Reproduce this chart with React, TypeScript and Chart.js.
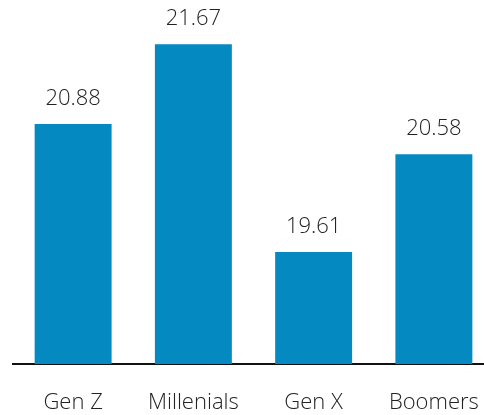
import React, { useEffect, useRef } from "react";
import { Chart, registerables } from "chart.js";

Chart.register(...registerables);

const categories = ["Gen Z", "Millenials", "Gen X", "Boomers"];
const values = [20.88, 21.67, 19.61, 20.58];
const valueLabels = ["20.88", "21.67", "19.61", "20.58"];

const FONT = "'Open Sans', 'Noto Sans', sans-serif";

const labelPlugin = {
  id: "valueLabels",
  afterDatasetsDraw(chart: any) {
    const ctx = chart.ctx;
    const meta = chart.getDatasetMeta(0);
    ctx.save();
    ctx.font = `300 22px ${FONT}`;
    ctx.fillStyle = "#222222";
    ctx.textAlign = "center";
    ctx.textBaseline = "alphabetic";
    meta.data.forEach((bar: any, i: number) => {
      ctx.fillText(valueLabels[i], bar.x, bar.y - 19);
    });
    ctx.restore();
  },
};

export default function App() {
  const ref = useRef<HTMLCanvasElement>(null);
  useEffect(() => {
    if (!ref.current) return;
    const chart = new Chart(ref.current, {
      type: "bar",
      data: {
        labels: categories,
        datasets: [
          {
            data: values,
            backgroundColor: "#0589c1",
            borderWidth: 0,
            categoryPercentage: 1,
            barPercentage: 0.64,
          },
        ],
      },
      options: {
        animation: false,
        responsive: false,
        layout: { padding: { left: 13, right: 0, top: 11, bottom: 0 } },
        plugins: { legend: { display: false }, tooltip: { enabled: false } },
        scales: {
          x: {
            grid: { display: false, drawTicks: false },
            border: { display: true, color: "#111111", width: 2 },
            ticks: {
              color: "#222222",
              font: { family: FONT, size: 22, weight: "300" as any },
              padding: 26,
            },
            afterFit: (scale: any) => {
              scale.height = 51;
              scale.paddingLeft = 0;
              scale.paddingRight = 0;
            },
          },
          y: {
            display: false,
            min: 18.5,
            max: 22,
          },
        },
      },
      plugins: [labelPlugin],
    });
    return () => chart.destroy();
  }, []);
  return (
    <div style={{ position: "absolute", left: 0, top: 0, width: 484, height: 415, overflow: "hidden" }}>
      <canvas ref={ref} width={494} height={415} style={{ display: "block" }} />
    </div>
  );
}
